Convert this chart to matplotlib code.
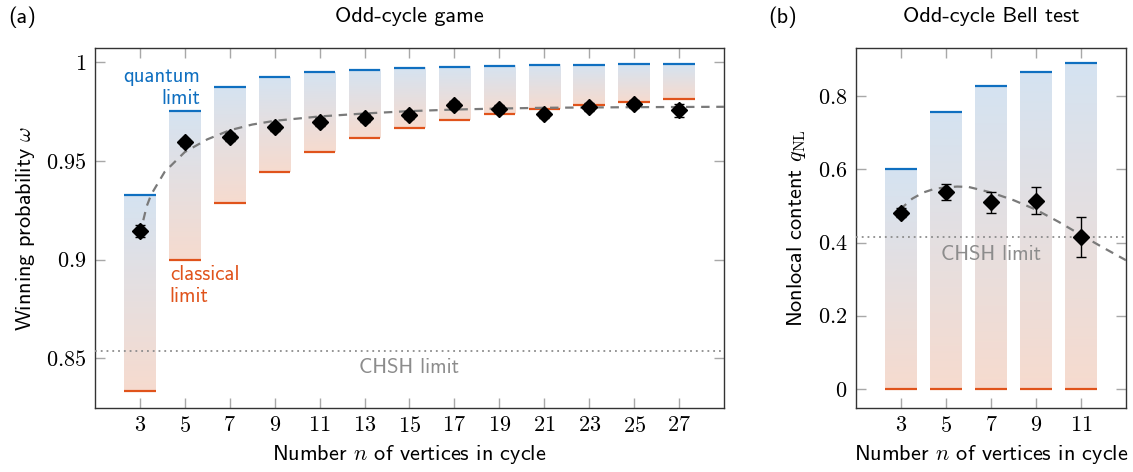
import numpy as np
import matplotlib
matplotlib.use("Agg")
import matplotlib.pyplot as plt
from matplotlib.ticker import FixedLocator, FuncFormatter

plt.rcParams['font.family'] = ['cmss10', 'DejaVu Sans']
plt.rcParams['mathtext.fontset'] = 'cm'
plt.rcParams['axes.unicode_minus'] = False
FS = 16

# ---------------- data: (a) odd-cycle game ----------------
n_game = [3, 5, 7, 9, 11, 13, 15, 17, 19, 21, 23, 25, 27]
quantum_game = [0.9330, 0.9755, 0.9875, 0.9924, 0.9949, 0.9964, 0.9973,
                0.9979, 0.9983, 0.9986, 0.9988, 0.9990, 0.9992]
classical_game = [0.8333, 0.9000, 0.9286, 0.9444, 0.9545, 0.9615, 0.9667,
                  0.9706, 0.9737, 0.9762, 0.9783, 0.9800, 0.9815]
measured_game = [0.9144, 0.9594, 0.9622, 0.9670, 0.9698, 0.9716, 0.9732,
                 0.9783, 0.9766, 0.9736, 0.9775, 0.9787, 0.9758]
err_game = [0.0030, 0.0020, 0.0020, 0.0020, 0.0020, 0.0020, 0.0020,
            0.0020, 0.0020, 0.0020, 0.0020, 0.0020, 0.0033]
fit_game_x = [3.15, 3.3, 3.5, 4.1, 4.5, 5, 6, 7, 8, 9, 11, 13, 15, 17, 19, 21, 25, 29]
fit_game_y = [0.920, 0.927, 0.933, 0.9445, 0.949, 0.9546, 0.9610, 0.9656, 0.9685,
              0.9704, 0.9726, 0.9741, 0.9753, 0.9761, 0.9766, 0.9770, 0.9773, 0.9775]
chsh_game = 0.8536

# ---------------- data: (b) odd-cycle Bell test ----------------
n_bell = [3, 5, 7, 9, 11]
quantum_bell = [0.600, 0.757, 0.826, 0.865, 0.889]
classical_bell = [0.0, 0.0, 0.0, 0.0, 0.0]
measured_bell = [0.482, 0.538, 0.510, 0.515, 0.415]
err_bell = [0.013, 0.021, 0.029, 0.037, 0.054]
fit_bell_x = [2.95, 3.5, 4, 4.5, 5, 5.5, 6, 7, 8, 9, 10, 11, 12, 13]
fit_bell_y = [0.490, 0.520, 0.537, 0.547, 0.551, 0.553, 0.552, 0.537, 0.516,
              0.490, 0.457, 0.421, 0.386, 0.352]
chsh_bell = 0.4142

BLUE = '#0f6fc0'
ORANGE = '#e0531b'
TOP_C = np.array([0.835, 0.890, 0.945])
BOT_C = np.array([0.965, 0.858, 0.810])
GRAY = '#7a7a7a'
BAR_W = 1.4

fig = plt.figure(figsize=(11.33, 4.72), dpi=100)
axA = fig.add_axes([95/1133, 1-408/472, 629/1133, 360/472])
axB = fig.add_axes([856/1133, 1-408/472, 270/1133, 360/472])

grad = np.linspace(0, 1, 64)[:, None, None]
grad_img = TOP_C[None, None, :] * (1 - grad) + BOT_C[None, None, :] * grad
grad_img = np.repeat(grad_img, 2, axis=1)


def draw_bars(ax, xs, qs, cs):
    for x, q, c in zip(xs, qs, cs):
        ax.imshow(grad_img, extent=[x - BAR_W/2, x + BAR_W/2, c, q], origin='upper',
                  aspect='auto', interpolation='bilinear', zorder=1)
        ax.plot([x - BAR_W/2, x + BAR_W/2], [q, q], color=BLUE, lw=1.6,
                solid_capstyle='butt', zorder=2)
        ax.plot([x - BAR_W/2, x + BAR_W/2], [c, c], color=ORANGE, lw=1.6,
                solid_capstyle='butt', zorder=2)


def style(ax, xlim, ylim, yticks, xticks):
    ax.set_xlim(*xlim)
    ax.set_ylim(*ylim)
    ax.xaxis.set_major_locator(FixedLocator(xticks))
    ax.yaxis.set_major_locator(FixedLocator(yticks))
    fmt = FuncFormatter(lambda v, p: r'$%s$' % ('%g' % round(v, 4)))
    ax.xaxis.set_major_formatter(fmt)
    ax.yaxis.set_major_formatter(fmt)
    ax.tick_params(direction='in', top=True, right=True, length=7.5, width=1.0,
                   color='#a8a8a8', labelsize=FS, pad=6)
    for s in ax.spines.values():
        s.set_color('#333333')
        s.set_linewidth(1.0)
    ax.set_xlabel(r'Number $n$ of vertices in cycle', fontsize=FS, labelpad=5)


# ----- panel (a)
draw_bars(axA, n_game, quantum_game, classical_game)
axA.plot(fit_game_x, fit_game_y, color=GRAY, lw=1.6, dashes=(3.8, 3.0), zorder=3)
axA.axhline(chsh_game, color='#8c8c8c', lw=1.3, ls=(0, (1, 2.2)), zorder=3)
axA.errorbar(n_game, measured_game, yerr=err_game, fmt='D', color='black', ms=8,
             ecolor='black', elinewidth=1.0, capsize=3.5, capthick=1.0, zorder=4)
style(axA, (1, 29), (0.8248, 1.0073), [0.85, 0.9, 0.95, 1.0], n_game)
axA.set_ylabel(r'Winning probability $\omega$', fontsize=FS, labelpad=7)
axA.text(5.67, 0.9875, 'quantum\nlimit', color=BLUE, fontsize=FS - 1, ha='right',
         va='center', linespacing=1.2, zorder=5)
axA.text(4.33, 0.8867, 'classical\nlimit', color=ORANGE, fontsize=FS - 1, ha='left',
         va='center', linespacing=1.2, zorder=5)
axA.text(15, 0.8453, 'CHSH limit', color='#8c8c8c', fontsize=FS - 1, ha='center',
         va='center', zorder=5)

# ----- panel (b)
draw_bars(axB, n_bell, quantum_bell, classical_bell)
axB.plot(fit_bell_x, fit_bell_y, color=GRAY, lw=1.6, dashes=(3.8, 3.0), zorder=3)
axB.axhline(chsh_bell, color='#8c8c8c', lw=1.3, ls=(0, (1, 2.2)), zorder=3)
axB.errorbar(n_bell, measured_bell, yerr=err_bell, fmt='D', color='black', ms=8,
             ecolor='black', elinewidth=1.0, capsize=3.5, capthick=1.0, zorder=4)
style(axB, (1, 13), (-0.051, 0.931), [0, 0.2, 0.4, 0.6, 0.8], n_bell)
axB.set_ylabel(r'Nonlocal content $q_{\mathrm{NL}}$', fontsize=FS, labelpad=7)
axB.text(7, 0.369, 'CHSH limit', color='#8c8c8c', fontsize=FS - 1, ha='center',
         va='center', zorder=5)

# titles and panel labels
fig.text(409.5/1133, 1 - 17/472, 'Odd-cycle game', fontsize=FS, ha='center', va='center')
fig.text(991/1133, 1 - 17/472, 'Odd-cycle Bell test', fontsize=FS, ha='center', va='center')
fig.text(8/1133, 1 - 17/472, '(a)', fontsize=FS, ha='left', va='center')
fig.text(768/1133, 1 - 17/472, '(b)', fontsize=FS, ha='left', va='center')

fig.savefig('out.png', dpi=100)
